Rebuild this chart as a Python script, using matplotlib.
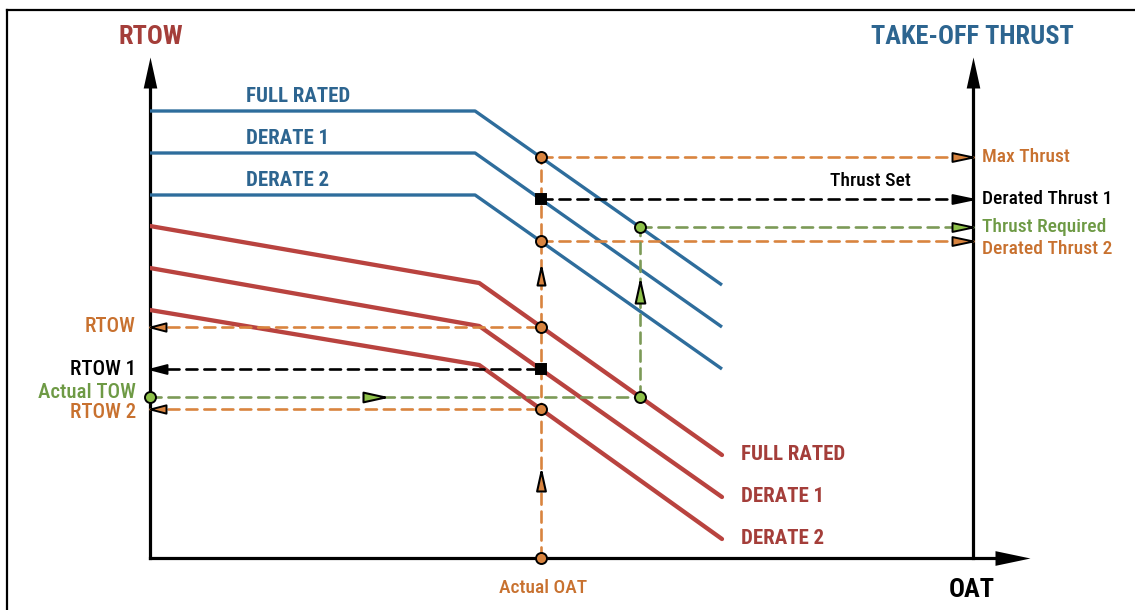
import numpy as np
import matplotlib
matplotlib.use("Agg")
import matplotlib.pyplot as plt
from matplotlib.lines import Line2D

# ---- data (OAT on x, 0..100 between the two vertical axes; level on y) ----
thrust_oat = [0.0, 39.5, 69.5]
thrust_full_rated = [89.4, 89.4, 54.6]
thrust_derate_1 = [81.0, 81.0, 46.2]
thrust_derate_2 = [72.6, 72.6, 37.8]

rtow_oat = [0.0, 40.0, 69.5]
rtow_full_rated = [66.4, 55.0, 20.6]
rtow_derate_1 = [58.0, 46.4, 12.2]
rtow_derate_2 = [49.6, 38.6, 3.8]

curve_names = ["FULL RATED", "DERATE 1", "DERATE 2"]
actual_oat = 47.5
actual_tow = 32.2

# ---- styling ----
plt.rcParams["font.family"] = ["Roboto Condensed", "Liberation Sans", "DejaVu Sans"]

BLUE = "#2e6d9c"
BLUE_TXT = "#2d6590"
RED = "#b9433f"
RED_TXT = "#a43e3a"
ORANGE = "#d9843f"
ORANGE_TXT = "#c8712f"
GREEN = "#7c9a57"
GREEN_FILL = "#8fc24a"
GREEN_TXT = "#6e9a45"
BLACK = "#000000"

PX = 0.72  # points per pixel at 100 dpi

fig = plt.figure(figsize=(11.35, 6.10), dpi=100)
ax = fig.add_axes([150 / 1135, 52 / 610, 823 / 1135, 500 / 610])
ax.set_xlim(0, 100)
ax.set_ylim(0, 100)
ax.axis("off")

# frame (top and left edges)
fig.add_artist(Line2D([7 / 1135, 7 / 1135], [0, 1 - 10 / 610], color="black",
                      lw=1.6, transform=fig.transFigure))
fig.add_artist(Line2D([7 / 1135, 1], [1 - 10 / 610, 1 - 10 / 610], color="black",
                      lw=1.6, transform=fig.transFigure))


def _rotate(verts, direction):
    a = np.deg2rad({"right": 0, "left": 180, "up": 90, "down": 270}[direction])
    r = np.array([[np.cos(a), -np.sin(a)], [np.sin(a), np.cos(a)]])
    return verts @ r.T


def tip_marker(direction, half=0.2):
    """Triangle whose tip sits on the anchor point."""
    return _rotate(np.array([[0, 0], [-1, half], [-1, -half], [0, 0]]), direction)


def mid_marker(direction, half=0.22):
    """Triangle centred on the anchor point."""
    return _rotate(np.array([[0.5, 0], [-0.5, half], [-0.5, -half], [0.5, 0]]), direction)


# ---- axes with arrows ----
AX_LW = 2.3
y_top = 100.2
x_right = 106.9
ax.plot([0, 0], [0, y_top - 5], color=BLACK, lw=AX_LW, clip_on=False, solid_capstyle="projecting")
ax.plot([100, 100], [0, y_top - 5], color=BLACK, lw=AX_LW, clip_on=False)
ax.plot([0, x_right - 3], [0, 0], color=BLACK, lw=AX_LW, clip_on=False, solid_capstyle="projecting")
for xx in (0, 100):
    ax.plot(xx, y_top, marker=tip_marker("up", 0.22), ms=2 * 31 * PX, color=BLACK,
            mec=BLACK, mew=0, clip_on=False)
ax.plot(x_right, 0, marker=tip_marker("right", 0.21), ms=2 * 35 * PX, color=BLACK,
        mec=BLACK, mew=0, clip_on=False)

# ---- thrust (blue) and RTOW (red) curves ----
for yv in (thrust_full_rated, thrust_derate_1, thrust_derate_2):
    ax.plot(thrust_oat, yv, color=BLUE, lw=2.4, solid_capstyle="butt", zorder=2)
for yv in (rtow_full_rated, rtow_derate_1, rtow_derate_2):
    ax.plot(rtow_oat, yv, color=RED, lw=3.1, solid_capstyle="round", zorder=2)

LABEL_FS = 15
for name, yv in zip(curve_names, (thrust_full_rated, thrust_derate_1, thrust_derate_2)):
    ax.annotate(name, (11.7, yv[0]), xytext=(0, 15 * PX), textcoords="offset points",
                ha="left", va="center", color=BLUE_TXT, fontsize=LABEL_FS, fontweight="bold")
for name, yv in zip(curve_names, (rtow_full_rated, rtow_derate_1, rtow_derate_2)):
    ax.annotate(name, (rtow_oat[-1], yv[-1]), xytext=(19 * PX, 0), textcoords="offset points",
                ha="left", va="center", color=RED_TXT, fontsize=LABEL_FS, fontweight="bold")

# ---- derived operating points ----
max_thrust = np.interp(actual_oat, thrust_oat, thrust_full_rated)
derated_thrust_1 = np.interp(actual_oat, thrust_oat, thrust_derate_1)
derated_thrust_2 = np.interp(actual_oat, thrust_oat, thrust_derate_2)
rtow = np.interp(actual_oat, rtow_oat, rtow_full_rated)
rtow_1 = np.interp(actual_oat, rtow_oat, rtow_derate_1)
rtow_2 = np.interp(actual_oat, rtow_oat, rtow_derate_2)
assumed_oat = np.interp(actual_tow, rtow_full_rated[::-1], rtow_oat[::-1])
thrust_required = np.interp(assumed_oat, thrust_oat, thrust_full_rated)

DASH_LW = 1.9
DASHES = (4.2, 2.6)


def dashed(xs, ys, color, z=3):
    ax.plot(xs, ys, color=color, lw=DASH_LW, dashes=DASHES, dash_capstyle="round",
            zorder=z, clip_on=False)


def end_arrow(x, y, direction, fill, length_px=21, half=0.21):
    ax.plot(x, y, marker=tip_marker(direction, half), ms=2 * length_px * PX, color=fill,
            mec=BLACK, mew=1.4, zorder=6, clip_on=False, linestyle="none")


def mid_arrow(x, y, direction, fill, length_px=20, half=0.22):
    ax.plot(x, y, marker=mid_marker(direction, half), ms=length_px * PX, color=fill,
            mec=BLACK, mew=1.5, zorder=6, clip_on=False, linestyle="none")


def dot(x, y, fill, shape="o", size_px=11):
    ax.plot(x, y, marker=shape, ms=size_px * PX, color=fill, mec=BLACK, mew=1.4,
            zorder=7, clip_on=False, linestyle="none")


# orange vertical from actual OAT up to max thrust
dashed([actual_oat, actual_oat], [0, max_thrust], ORANGE)
mid_arrow(actual_oat, 15.4, "up", ORANGE)
mid_arrow(actual_oat, 56.4, "up", ORANGE, length_px=18)

# thrust side projections
dashed([actual_oat, 100], [max_thrust] * 2, ORANGE)
end_arrow(100, max_thrust, "right", ORANGE)
dashed([actual_oat, 100], [derated_thrust_1] * 2, BLACK, z=4)
end_arrow(100, derated_thrust_1, "right", BLACK)
dashed([actual_oat, 100], [derated_thrust_2] * 2, ORANGE)
end_arrow(100, derated_thrust_2, "right", ORANGE)

# RTOW side projections
dashed([0, actual_oat], [rtow] * 2, ORANGE)
end_arrow(0, rtow, "left", ORANGE, length_px=16, half=0.26)
dashed([0, actual_oat], [rtow_1] * 2, BLACK, z=4)
end_arrow(0, rtow_1, "left", BLACK, length_px=17, half=0.26)
dashed([0, actual_oat], [rtow_2] * 2, ORANGE)
end_arrow(0, rtow_2, "left", ORANGE, length_px=16, half=0.26)

# assumed temperature path (green)
dashed([0, assumed_oat], [actual_tow] * 2, GREEN)
mid_arrow(27.2, actual_tow, "right", GREEN_FILL, length_px=22)
dashed([assumed_oat, assumed_oat], [actual_tow, thrust_required], GREEN)
mid_arrow(assumed_oat, 53.2, "up", GREEN_FILL, length_px=22)
dashed([assumed_oat, 100], [thrust_required] * 2, GREEN)
end_arrow(100, thrust_required, "right", GREEN_FILL)

# markers
dot(actual_oat, 0, ORANGE)
dot(actual_oat, max_thrust, ORANGE)
dot(actual_oat, derated_thrust_2, ORANGE)
dot(actual_oat, rtow, ORANGE)
dot(actual_oat, rtow_2, ORANGE)
dot(actual_oat, derated_thrust_1, BLACK, shape="s", size_px=10)
dot(actual_oat, rtow_1, BLACK, shape="s", size_px=10)
dot(0, actual_tow, GREEN_FILL)
dot(assumed_oat, actual_tow, GREEN_FILL)
dot(assumed_oat, thrust_required, GREEN_FILL)

# ---- titles and point labels ----
TITLE_FS = 19
ax.text(0.1, 104.2, "RTOW", ha="center", va="center", color=RED_TXT,
        fontsize=TITLE_FS, fontweight="bold", clip_on=False)
ax.text(99.9, 104.2, "TAKE-OFF THRUST", ha="center", va="center", color=BLUE_TXT,
        fontsize=TITLE_FS, fontweight="bold", clip_on=False)
ax.text(99.8, -6.4, "OAT", ha="center", va="center", color=BLACK,
        fontsize=TITLE_FS, fontweight="bold", clip_on=False)
ax.text(actual_oat + 0.2, -6.0, "Actual OAT", ha="center", va="center", color=ORANGE_TXT,
        fontsize=14, fontweight="medium", clip_on=False)

left_labels = [("RTOW", rtow, ORANGE_TXT, 0), ("RTOW 1", rtow_1, BLACK, 0),
               ("Actual TOW", actual_tow, GREEN_TXT, 4), ("RTOW 2", rtow_2, ORANGE_TXT, -3)]
for text, yv, col, dy in left_labels:
    ax.annotate(text, (0, yv), xytext=(-14 * PX, dy * PX), textcoords="offset points",
                ha="right", va="center", color=col, fontsize=15, fontweight="medium",
                annotation_clip=False)

right_labels = [("Max Thrust", max_thrust, ORANGE_TXT, 0),
                ("Derated Thrust 1", derated_thrust_1, BLACK, 0),
                ("Thrust Required", thrust_required, GREEN_TXT, 0),
                ("Derated Thrust 2", derated_thrust_2, ORANGE_TXT, -8)]
for text, yv, col, dy in right_labels:
    ax.annotate(text, (100, yv), xytext=(9 * PX, dy * PX), textcoords="offset points",
                ha="left", va="center", color=col, fontsize=14, fontweight="medium",
                annotation_clip=False)

ax.annotate("Thrust Set", (87.5, derated_thrust_1), xytext=(0, 18 * PX),
            textcoords="offset points", ha="center", va="center", color=BLACK,
            fontsize=14, fontweight="medium", annotation_clip=False)

fig.savefig("out.png", dpi=100, facecolor="white")
